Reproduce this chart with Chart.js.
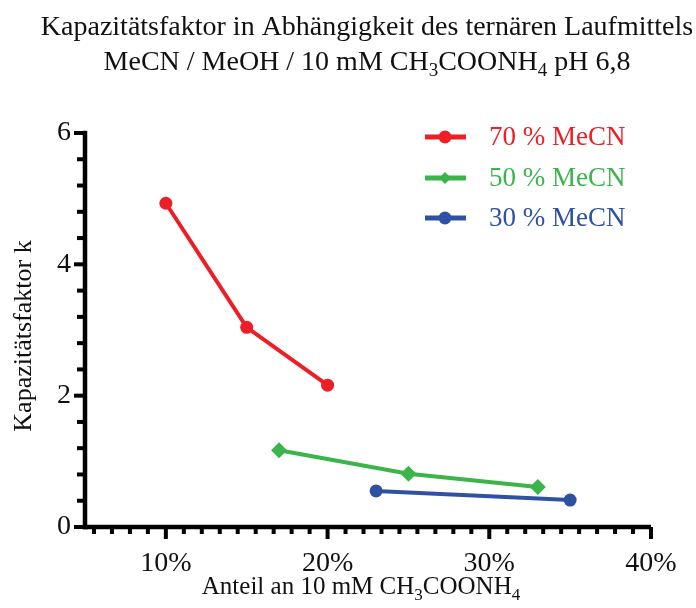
<!DOCTYPE html>
<html>
<head>
<meta charset="utf-8">
<script src="https://cdn.jsdelivr.net/npm/chart.js@4.4.1/dist/chart.umd.min.js"></script>
<style>
  html, body { margin: 0; padding: 0; background: #fff; }
  #wrap { position: relative; width: 696px; height: 608px; }
</style>
</head>
<body>
<div id="wrap"><canvas id="kChart" width="696" height="608"></canvas></div>
<script>
// Anteil an 10 mM CH3COONH4 (%) and Kapazitätsfaktor k per MeCN level
const seriesNames = ['70 % MeCN', '50 % MeCN', '30 % MeCN'];
const seriesColors = ['#EC1F27', '#3AB54A', '#2F51A3'];
const seriesMarkers = ['circle', 'rectRot', 'circle'];

const buffer70 = [10, 15, 20];
const k70 = [4.93, 3.04, 2.16];
const buffer50 = [17, 25, 33];
const k50 = [1.17, 0.81, 0.61];
const buffer30 = [23, 35];
const k30 = [0.55, 0.41];

const xMajorTicks = [10, 20, 30, 40];
const yMajorTicks = [0, 2, 4, 6];

const FONT = "'Liberation Serif', 'Times New Roman', serif";

const toPoints = (xs, ys) => xs.map((x, i) => ({ x: x, y: ys[i] }));
const allX = [buffer70, buffer50, buffer30];
const allY = [k70, k50, k30];

const datasets = seriesNames.map((name, i) => ({
  label: name,
  data: toPoints(allX[i], allY[i]),
  borderColor: seriesColors[i],
  backgroundColor: seriesColors[i],
  borderWidth: 4,
  pointStyle: seriesMarkers[i],
  pointRadius: seriesMarkers[i] === 'rectRot' ? 8 : 6.5,
  pointBorderWidth: 0,
  showLine: true,
  tension: 0
}));

// text runs with optional subscript pieces
function drawRuns(ctx, runs, cx, baseline, size) {
  const subSize = Math.round(size * 0.68);
  let total = 0;
  runs.forEach(r => {
    ctx.font = `${r.sub ? subSize : size}px ${FONT}`;
    total += ctx.measureText(r.t).width;
  });
  let x = cx - total / 2;
  ctx.textAlign = 'left';
  ctx.textBaseline = 'alphabetic';
  runs.forEach(r => {
    ctx.font = `${r.sub ? subSize : size}px ${FONT}`;
    ctx.fillText(r.t, x, baseline + (r.sub ? size * 0.22 : 0));
    x += ctx.measureText(r.t).width;
  });
}

const isMajor = (v, majors) => majors.some(m => Math.abs(m - v) < 1e-6);

const axisPlugin = {
  id: 'axisPlugin',
  afterDraw(chart) {
    const ctx = chart.ctx;
    const xs = chart.scales.x, ys = chart.scales.y;
    const left = xs.getPixelForValue(5);
    const bottom = ys.getPixelForValue(0);
    const top = ys.getPixelForValue(6);
    const right = xs.getPixelForValue(40);
    ctx.save();
    ctx.fillStyle = '#000';
    const w = 4.5;
    // axis lines
    ctx.fillRect(left - w / 2, top - w / 2, w, bottom - top + w);
    ctx.fillRect(left - w / 2, bottom - w / 2, right - left + w / 2, w);
    // y ticks
    ys.ticks.forEach(t => {
      const py = ys.getPixelForValue(t.value);
      const len = isMajor(t.value, yMajorTicks) ? 11 : 8;
      ctx.fillRect(left - len, py - 2, len, 4);
    });
    // x ticks
    xs.ticks.forEach(t => {
      if (t.value <= 5.01) return;
      const px = xs.getPixelForValue(t.value);
      const len = isMajor(t.value, xMajorTicks) ? 12 : 7;
      ctx.fillRect(px - 2, bottom, 4, len);
    });

    // title
    ctx.fillStyle = '#111';
    ctx.textAlign = 'center';
    ctx.font = `28px ${FONT}`;
    ctx.fillText('Kapazitätsfaktor in Abhängigkeit des ternären Laufmittels', 367, 35);
    drawRuns(ctx, [
      { t: 'MeCN / MeOH / 10 mM CH' }, { t: '3', sub: true },
      { t: 'COONH' }, { t: '4', sub: true }, { t: ' pH 6,8' }
    ], 367, 70, 28);

    // x axis title
    drawRuns(ctx, [
      { t: 'Anteil an 10 mM CH' }, { t: '3', sub: true },
      { t: 'COONH' }, { t: '4', sub: true }
    ], 361, 594, 25);

    // y axis title
    ctx.save();
    ctx.translate(24, 336);
    ctx.rotate(-Math.PI / 2);
    ctx.font = `26px ${FONT}`;
    ctx.textAlign = 'center';
    ctx.textBaseline = 'middle';
    ctx.fillText('Kapazitätsfaktor k', 0, 0);
    ctx.restore();

    // legend
    const rows = [137, 178, 218];
    chart.data.datasets.forEach((ds, i) => {
      const y = rows[i];
      ctx.fillStyle = seriesColors[i];
      ctx.fillRect(425, y - 2.5, 41, 5);
      ctx.beginPath();
      if (seriesMarkers[i] === 'rectRot') {
        ctx.moveTo(445, y - 6); ctx.lineTo(451, y); ctx.lineTo(445, y + 6); ctx.lineTo(439, y);
      } else {
        ctx.arc(445, y, 6.5, 0, Math.PI * 2);
      }
      ctx.fill();
      ctx.font = `27px ${FONT}`;
      ctx.textAlign = 'left';
      ctx.textBaseline = 'middle';
      ctx.fillText(ds.label, 489, y + 1);
    });
    ctx.restore();
  }
};

new Chart(document.getElementById('kChart'), {
  type: 'scatter',
  data: { datasets },
  options: {
    responsive: false,
    animation: false,
    layout: { padding: { top: 133, right: 45, left: 0, bottom: 0 } },
    plugins: { legend: { display: false }, tooltip: { enabled: false } },
    scales: {
      x: {
        type: 'linear',
        min: 5,
        max: 40,
        afterFit: s => { s.height = 81; },
        afterBuildTicks: s => {
          const ticks = [];
          for (let i = 5; i <= 36; i++) ticks.push({ value: i * 10 / 9 });
          s.ticks = ticks;
        },
        grid: { display: false, drawTicks: true, tickLength: 12 },
        border: { display: false },
        ticks: {
          autoSkip: false,
          maxRotation: 0,
          padding: 8,
          color: '#111',
          font: { family: FONT, size: 28 },
          callback: v => isMajor(v, xMajorTicks) ? Math.round(v) + '%' : ''
        }
      },
      y: {
        min: 0,
        max: 6,
        afterFit: s => { s.width = 85; },
        afterBuildTicks: s => {
          const ticks = [];
          for (let i = 0; i <= 15; i++) ticks.push({ value: i * 0.4 });
          s.ticks = ticks;
        },
        grid: { display: false, drawTicks: true, tickLength: 11 },
        border: { display: false },
        ticks: {
          autoSkip: false,
          padding: 3,
          color: '#111',
          font: { family: FONT, size: 28 },
          callback: v => isMajor(v, yMajorTicks) ? String(Math.round(v)) : ''
        }
      }
    }
  },
  plugins: [axisPlugin]
});
</script>
</body>
</html>
